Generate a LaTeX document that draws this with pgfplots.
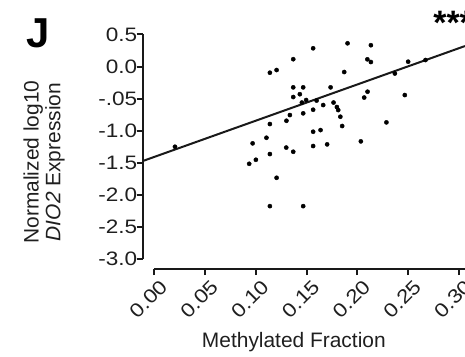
\documentclass[border=0pt]{standalone}
\usepackage{pgfplots}
\pgfplotsset{compat=1.18}
\usepackage{pgfplotstable}
\usepackage{fontspec}
\setmainfont{Liberation Sans}
\newfontfamily\tickfont{Liberation Sans}[FakeStretch=1.16]

\pgfplotstableread{
x y
0.0204 -1.250
0.1139 -0.096
0.1205 -0.054
0.1369 0.115
0.1565 0.285
0.1904 0.363
0.2134 0.333
0.2099 0.113
0.2134 0.071
0.1871 -0.085
0.2501 0.076
0.2672 0.102
0.2370 -0.108
0.2468 -0.444
0.2101 -0.392
0.2068 -0.483
0.1369 -0.324
0.1467 -0.324
0.1369 -0.475
0.1434 -0.431
0.1737 -0.324
0.1496 -0.522
0.1454 -0.561
0.1599 -0.530
0.1565 -0.673
0.1467 -0.729
0.1664 -0.600
0.1766 -0.561
0.1799 -0.631
0.1812 -0.678
0.1833 -0.782
0.1851 -0.927
0.1336 -0.756
0.1302 -0.845
0.1139 -0.896
0.1565 -1.016
0.1638 -0.990
0.2287 -0.870
0.1105 -1.110
0.0969 -1.197
0.1300 -1.263
0.1369 -1.328
0.1565 -1.239
0.1703 -1.213
0.2035 -1.166
0.1139 -1.364
0.1001 -1.453
0.0935 -1.516
0.1205 -1.734
0.1139 -2.176
0.1467 -2.176
}\pts

\begin{document}
\begin{tikzpicture}
\begin{axis}[
  at={(0,0)}, anchor=south west,
  scale only axis, width=322.3bp, height=234.5bp,
  xmin=-0.0114, xmax=0.3061, ymin=-3.156, ymax=0.5,
  axis lines=left,
  axis line style={draw=none},
  clip=false,
  xtick={0,0.05,0.1,0.15,0.2,0.25,0.3},
  xticklabels={0.00,0.05,0.10,0.15,0.20,0.25,0.30},
  ytick={-3,-2.5,-2,-1.5,-1,-0.5,0,0.5},
  yticklabels={-3.0,-2.5,-2.0,-1.5,-1.0,-.05,0.0,0.5},
  tick align=outside,
  major tick length=6bp,
  tick style={line width=2bp, black!90},
  tick label style={font=\tickfont\fontsize{19.5}{21}\selectfont, text=black!88},
  xticklabel style={xshift=12bp, yshift=-6bp, rotate=45, anchor=east},
  yticklabel style={anchor=east, xshift=4bp},
  xlabel={Methylated Fraction},
  ylabel={Normalized log10\\\textit{DIO2} Expression},
  xlabel style={font=\fontsize{21}{24}\selectfont, text=black!88, at={(axis description cs:0.469,-0.311)}, anchor=center},
  ylabel style={font=\fontsize{21}{22}\selectfont, text=black!88, at={(axis description cs:-0.306,0.456)}, anchor=center, align=center},
]
\draw[line width=2bp, black!90] (axis cs:-0.0114,-3) -- (axis cs:-0.0114,0.5);
\draw[line width=2bp, black!90] (axis cs:0,-3.156) -- (axis cs:0.3061,-3.156);
\addplot[only marks, mark=*, mark size=2.1bp, black] table[x=x,y=y] {\pts};
\addplot[no marks, line width=2bp, black!90] coordinates {(-0.0114,-1.473) (0.3061,0.32)};
\node[font=\fontsize{42}{46}\selectfont\bfseries, anchor=center] at (axis description cs:-0.325,1.006) {J};
\node[font=\fontsize{34}{38}\selectfont\bfseries, anchor=base west] at (axis description cs:0.891,1.0) {***};
\end{axis}
\pgfresetboundingbox
\path (-142.7bp,-88bp) rectangle (322.3bp,269bp);
\end{tikzpicture}
\end{document}
